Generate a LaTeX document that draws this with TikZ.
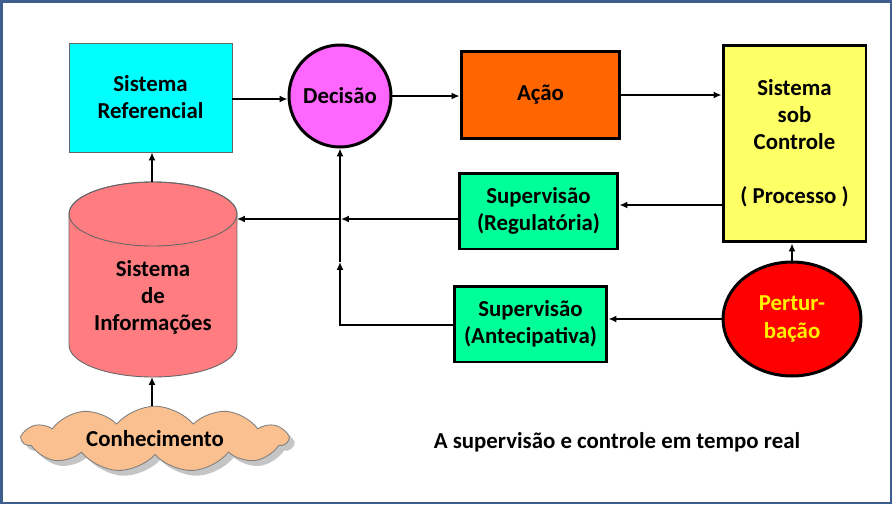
\documentclass[tikz,border=0pt]{standalone}
\usepackage{fontspec}
\setmainfont{Carlito}
\usepackage{tikz}
\usetikzlibrary{arrows.meta,positioning,calc,shapes.geometric,shapes.symbols,shadows}

\definecolor{refcyan}{HTML}{00FFFF}
\definecolor{decpink}{HTML}{FF66FF}
\definecolor{actorange}{HTML}{FF6600}
\definecolor{procyellow}{HTML}{FFFF66}
\definecolor{supgreen}{HTML}{00FF99}
\definecolor{infored}{HTML}{FF7C80}
\definecolor{cloudtan}{HTML}{FAC090}
\definecolor{framebl}{HTML}{3E5F8E}

\begin{document}
\begin{tikzpicture}[
  x=0.02cm, y=-0.02cm,
  txt/.style={font=\bfseries\fontsize{13}{15.4}\selectfont, align=center},
  blk/.style={txt, draw, line width=1.7pt, inner sep=0pt},
  arr/.style={-{Latex[length=4.5pt,width=4pt]}, line width=1.1pt},
]
\useasboundingbox (0,0) rectangle (896,507);
\draw[framebl, line width=1.6pt] (1.5,1.5) rectangle (891,503);

% left column
\node[txt, draw=black!60, line width=0.5pt, fill=refcyan,
  minimum width=3.26cm, minimum height=2.18cm] (ref) at (150.5,97.5)
  {Sistema\\Referencial};

% cylinder drawn by hand
\filldraw[fill=infored, draw=black!60, line width=0.5pt]
  (69,214) -- (69,345) arc (180:360:1.68cm and 0.64cm)
  -- (237,214) arc (0:180:1.68cm and 0.64cm) -- cycle;
\draw[black!60, line width=0.5pt] (153,214) ellipse (1.68cm and 0.64cm);
\node[txt] (info) at (153,297) {Sistema\\de\\Informações};
\coordinate (cyltop) at (152,182);
\coordinate (cylbot) at (152,377);
\coordinate (cylin) at (237,219);

\node[txt, cloud, cloud puffs=11, cloud puff arc=100, cloud ignores aspect,
  draw=black!50, line width=0.5pt, fill=cloudtan,
  drop shadow={shadow xshift=3pt, shadow yshift=-3pt, fill=black!45},
  minimum width=5.3cm, minimum height=1.05cm] (know) at (155,439)
  {Conhecimento};

% top row
\node[blk, circle, fill=decpink, minimum size=2.04cm] (dec) at (340,96) {Decisão};
\node[blk, fill=actorange, minimum width=3.18cm, minimum height=1.76cm]
  (act) at (540.5,95) {Ação};
\node[blk, fill=procyellow, minimum width=2.86cm, minimum height=3.94cm]
  (proc) at (794.5,143.5) {Sistema\\sob\\Controle\\\\( Processo )};

% supervision
\node[blk, fill=supgreen, minimum width=3.18cm, minimum height=1.52cm]
  (reg) at (538.5,211) {Supervisão\\(Regulatória)};
\node[blk, fill=supgreen, minimum width=3.06cm, minimum height=1.52cm]
  (ant) at (530.5,324) {Supervisão\\(Antecipativa)};
\node[blk, ellipse, fill=red, text=yellow, minimum width=2.76cm,
  minimum height=2.28cm] (pert) at (792,319) {Pertur-\\bação};

\node[txt] (caption) at (617,442) {A supervisão e controle em tempo real};

\coordinate (j1) at (341,219);
\coordinate (j2) at (340,325);
\coordinate (j3) at (340,262);

\draw[arr] ([yshift=-0.03cm]ref.east) -- ([yshift=-0.03cm]dec.west |- ref.east);
\draw[arr] (cyltop) -- (cyltop |- ref.south);
\draw[arr] (know.north -| cylbot) -- (cylbot);
\draw[arr] (dec.east) -- (act.west |- dec.east);
\draw[arr] (act.east) -- (act.east -| proc.west);
\draw[arr] ([yshift=0.12cm]reg.east -| proc.west) -- ([yshift=0.12cm]reg.east);
\draw[arr] (pert.north) -- (pert.north |- proc.south);
\draw[arr] (pert.west) -- (pert.west -| ant.east);
\draw[arr] (j1 -| reg.west) -- (j1);
\draw[arr] (j1) -- (cylin);
\draw[arr] (ant.west |- j2) -- (j2) -- (j3);
\draw[arr] (j3) -- (dec.south);
\end{tikzpicture}
\end{document}
